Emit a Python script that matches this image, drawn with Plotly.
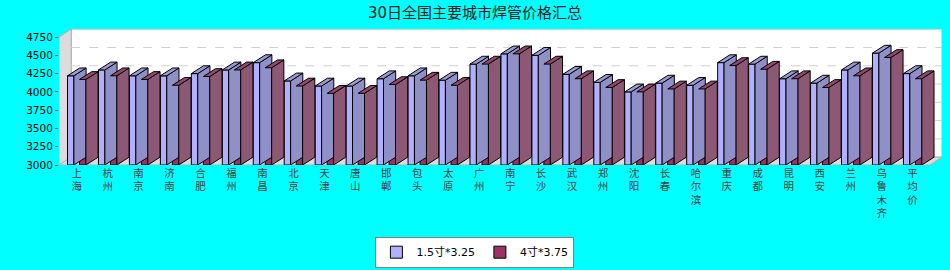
import plotly.graph_objects as go
import numpy as np

cities = ["上海", "杭州", "南京", "济南", "合肥", "福州", "南昌", "北京", "天津", "唐山",
          "邯郸", "包头", "太原", "广州", "南宁", "长沙", "武汉", "郑州", "沈阳", "长春",
          "哈尔滨", "重庆", "成都", "昆明", "西安", "兰州", "乌鲁木齐", "平均价"]
series1_name = "1.5寸*3.25"
series2_name = "4寸*3.75"
series1 = [4220, 4300, 4220, 4220, 4250, 4300, 4400, 4150, 4080, 4080,
           4180, 4220, 4160, 4380, 4520, 4500, 4240, 4130, 4000, 4120,
           4090, 4400, 4380, 4180, 4120, 4300, 4530, 4250]
series2 = [4170, 4220, 4170, 4090, 4210, 4300, 4330, 4080, 3980, 3980,
           4100, 4160, 4090, 4380, 4520, 4380, 4180, 4060, 4000, 4040,
           4040, 4360, 4310, 4180, 4060, 4220, 4470, 4180]
y_ticks = [3000, 3250, 3500, 3750, 4000, 4250, 4500, 4750]
title = "30日全国主要城市焊管价格汇总"

n = len(cities)
idx = np.arange(n)
BASE = 3000
PITCH = 30.96          # px per category
DX = 12.2 / PITCH      # depth offset in category units
DY = 107               # depth offset in value units
W = 6.4 / PITCH
OFF = 6.0 / PITCH
X0 = -(76.7 - 59) / PITCH
X1 = X0 + 883 / PITCH
YTOP = 4860

FONT = "DejaVu Sans, Noto Sans CJK SC, sans-serif"

def faces(centers, vals):
    side_x, side_y, top_x, top_y = [], [], [], []
    for xc, v in zip(centers, vals):
        xl, xr = xc - W / 2, xc + W / 2
        side_x += [xr, xr, xr + DX, xr + DX, xr, None]
        side_y += [BASE, v, v + DY, BASE + DY, BASE, None]
        top_x += [xl, xr, xr + DX, xl + DX, xl, None]
        top_y += [v, v, v + DY, v + DY, v, None]
    return side_x, side_y, top_x, top_y

fig = go.Figure()

specs = [
    (series1, idx - OFF, series1_name, "#b0b0ff", "#9090c8", "#9a9ad2"),
    (series2, idx + OFF, series2_name, "#993366", "#8c5873", "#94476c"),
]
for vals, xs, name, cf, cs, ct in specs:
    fig.add_trace(go.Bar(x=xs, y=[v - BASE for v in vals], base=BASE, width=W,
                         name=name, marker=dict(color=cf, line=dict(color="black", width=1)),
                         hoverinfo="skip"))
    sx, sy, tx, ty = faces(xs, vals)
    fig.add_trace(go.Scatter(x=sx, y=sy, mode="lines", fill="toself", fillcolor=cs,
                             line=dict(color="black", width=1), showlegend=False, hoverinfo="skip"))
    fig.add_trace(go.Scatter(x=tx, y=ty, mode="lines", fill="toself", fillcolor=ct,
                             line=dict(color="black", width=1), showlegend=False, hoverinfo="skip"))

shapes = []
# back wall
shapes.append(dict(type="rect", xref="x", yref="y", x0=X0 + DX, x1=X1, y0=BASE + DY, y1=YTOP,
                   fillcolor="white", line=dict(color="#b0b0b0", width=1), layer="below"))
# left wall
shapes.append(dict(type="path", xref="x", yref="y",
                   path=f"M {X0},{BASE} L {X0+DX},{BASE+DY} L {X0+DX},{YTOP} L {X0},{y_ticks[-1]} Z",
                   fillcolor="#dcdcdc", line=dict(color="#b0b0b0", width=1), layer="below"))
# floor
shapes.append(dict(type="path", xref="x", yref="y",
                   path=f"M {X0},{BASE} L {X1-DX},{BASE} L {X1},{BASE+DY} L {X0+DX},{BASE+DY} Z",
                   fillcolor="#dcdcdc", line=dict(color="#b0b0b0", width=1), layer="below"))
for v in y_ticks[1:-1]:
    shapes.append(dict(type="line", xref="x", yref="y", x0=X0 + DX, x1=X1, y0=v + DY, y1=v + DY,
                       line=dict(color="#d0d0d0", width=1, dash="dash"), layer="below"))

fig.update_layout(
    width=950, height=270,
    paper_bgcolor="#00ffff", plot_bgcolor="rgba(0,0,0,0)",
    margin=dict(l=59, r=8, t=29, b=105, autoexpand=False),
    barmode="overlay",
    title=dict(text=title, x=0.5, xanchor="center", y=0.952, yanchor="middle",
               font=dict(family=FONT, size=15, color="#202020")),
    shapes=shapes,
    showlegend=True,
    legend=dict(orientation="h", x=0.471, xanchor="center", y=-0.755, yanchor="bottom",
                bgcolor="white", bordercolor="#808080", borderwidth=1,
                font=dict(family=FONT, size=11, color="black"),
                itemwidth=30, tracegroupgap=0),
    xaxis=dict(range=[X0, X1], tickmode="array", tickvals=list(idx),
               ticktext=["<br>".join(list(c)) for c in cities],
               showgrid=False, zeroline=False, showline=False, ticks="", automargin=False,
               tickangle=0, tickfont=dict(family=FONT, size=10.5, color="#404040")),
    yaxis=dict(range=[BASE, YTOP], tickmode="array", tickvals=y_ticks,
               ticktext=[str(t) for t in y_ticks], automargin=False,
               showgrid=False, zeroline=False, showline=False,
               ticks="outside", ticklen=3, tickcolor="#a05050",
               tickfont=dict(family=FONT, size=10.5, color="black")),
)

fig.write_html("out.html")
